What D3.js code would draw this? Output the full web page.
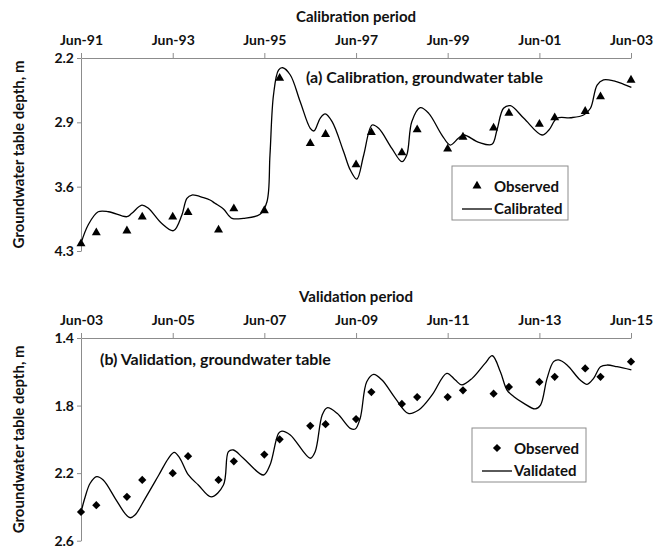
<!DOCTYPE html>
<html>
<head>
<meta charset="utf-8">
<script src="https://cdn.jsdelivr.net/npm/d3@7"></script>
<style>
  body { margin: 0; background: #fff; }
  text { font-family: Lato, "Open Sans", sans-serif; font-weight: bold; fill: #111; }
  .axis path, .axis line { stroke: #8c8c8c; }
</style>
</head>
<body>
<div id="chart"></div>
<script>
// ---- calibration panel data (depth, m) ----
var calibXTicks = ["Jun-91", "Jun-93", "Jun-95", "Jun-97", "Jun-99", "Jun-01", "Jun-03"]
var calibYTicks = [2.2, 2.9, 3.6, 4.3]
var calibObsDates = ["Jun-91", "Oct-91", "Jun-92", "Oct-92", "Jun-93", "Oct-93", "Jun-94", "Oct-94",
    "Jun-95", "Oct-95", "Jun-96", "Oct-96", "Jun-97", "Oct-97", "Jun-98", "Oct-98", "Jun-99", "Oct-99",
    "Jun-00", "Oct-00", "Jun-01", "Oct-01", "Jun-02", "Oct-02", "Jun-03"]
var calibObs = [4.22, 4.10, 4.08, 3.93, 3.93, 3.88, 4.07, 3.84, 3.86, 2.42, 3.13, 3.03, 3.36,
    3.01, 3.23, 2.98, 3.19, 3.06, 2.96, 2.80, 2.92, 2.85, 2.78, 2.62, 2.44]
// simulated line: months after Jun-91 and depth
var calibSimMonths = [0, 1.9, 4.5, 7.2, 12.0, 13.3, 15.9, 17.6, 21.1, 24.2, 26.4, 27.7, 29.0, 32.0, 33.8,
    35.1, 37.3, 39.5, 42.5, 46.9, 48.7, 49.5, 50.4, 51.7, 52.8, 54.8, 57.4, 60.0, 61.0, 62.6,
    63.9, 65.7, 68.7, 70.5, 72.2, 74.0, 76.2, 77.9, 81.4, 84.0, 85.3, 86.6, 88.8, 91.0, 94.5,
    96.7, 98.8, 100.2, 104.1, 107.6, 108.9, 110.6, 112.4, 115.9, 120.7, 122.5, 124.6, 128.1, 131.6, 133.4,
    135.1, 136.8, 139.5, 142.1, 144.1]
var calibSim = [4.216, 4.017, 3.873, 3.873, 3.927, 3.890, 3.800, 3.835, 3.999, 4.079, 3.908, 3.727, 3.691, 3.720, 3.745,
    3.781, 3.843, 3.944, 3.944, 3.901, 3.764, 3.255, 2.603, 2.331, 2.306, 2.385, 2.676, 2.965, 2.994, 2.856,
    2.809, 2.893, 3.220, 3.419, 3.517, 3.255, 2.929, 2.965, 3.183, 3.328, 3.255, 2.893, 2.741, 2.802, 3.038,
    3.147, 3.074, 3.038, 3.117, 3.139, 2.983, 2.747, 2.719, 2.856, 3.038, 2.983, 2.856, 2.850, 2.820, 2.747,
    2.494, 2.439, 2.450, 2.486, 2.519]

// ---- validation panel data ----
var validXTicks = ["Jun-03", "Jun-05", "Jun-07", "Jun-09", "Jun-11", "Jun-13", "Jun-15"]
var validYTicks = [1.4, 1.8, 2.2, 2.6]
var validObsDates = ["Jun-03", "Oct-03", "Jun-04", "Oct-04", "Jun-05", "Oct-05", "Jun-06", "Oct-06",
    "Jun-07", "Oct-07", "Jun-08", "Oct-08", "Jun-09", "Oct-09", "Jun-10", "Oct-10", "Jun-11", "Oct-11",
    "Jun-12", "Oct-12", "Jun-13", "Oct-13", "Jun-14", "Oct-14", "Jun-15"]
var validObs = [2.43, 2.39, 2.34, 2.24, 2.20, 2.10, 2.24, 2.13, 2.09, 2.00, 1.92, 1.91, 1.88,
    1.72, 1.79, 1.75, 1.75, 1.71, 1.73, 1.69, 1.66, 1.63, 1.58, 1.63, 1.54]
// simulated line: months after Jun-03 and depth
var validSimMonths = [0, 1.0, 2.4, 4.1, 5.8, 8.9, 11.5, 12.8, 14.1, 16.8, 20.3, 22.9, 24.4, 25.9, 28.1,
    30.7, 34.1, 37.3, 38.6, 39.9, 42.5, 47.8, 49.5, 51.7, 52.6, 54.8, 60.0, 61.3, 63.1, 64.4,
    67.0, 70.5, 71.8, 73.1, 74.8, 76.6, 78.8, 82.3, 85.7, 88.4, 91.9, 95.8, 98.0, 99.7, 102.4,
    105.8, 107.7, 109.8, 111.5, 113.3, 115.9, 118.9, 120.3, 122.0, 123.7, 125.0, 127.2, 130.7, 132.5, 134.2,
    136.0, 137.7, 140.3, 144.1]
var validSim = [2.432, 2.349, 2.260, 2.221, 2.241, 2.349, 2.438, 2.464, 2.448, 2.349, 2.211, 2.112, 2.077, 2.112, 2.211,
    2.270, 2.341, 2.270, 2.073, 2.063, 2.112, 2.211, 2.152, 1.964, 1.951, 1.974, 2.112, 2.073, 1.856, 1.813,
    1.846, 1.935, 1.939, 1.875, 1.659, 1.615, 1.649, 1.757, 1.846, 1.826, 1.737, 1.609, 1.649, 1.678, 1.639,
    1.550, 1.505, 1.600, 1.708, 1.748, 1.787, 1.820, 1.797, 1.639, 1.540, 1.530, 1.560, 1.649, 1.674, 1.639,
    1.570, 1.560, 1.570, 1.589]

var W = 654, H = 547
var parseMon = d3.timeParse("%b-%y")

var svg = d3.select("#chart")
    .append("svg")
        .attr("width", W)
        .attr("height", H)

function monthsAfter(base, m) {
    return new Date(base.getFullYear(), base.getMonth() + Math.floor(m), 1 + Math.round((m % 1) * 30))
}

function drawPanel(p) {
    var g = svg.append("g")
        .attr("transform", "translate(81," + p.top + ")")
    var width = 550, height = p.height

    var x = d3.scaleTime()
        .domain([parseMon(p.xTicks[0]), parseMon(p.xTicks[p.xTicks.length - 1])])
        .range([0, width])
    var y = d3.scaleLinear()
        .domain([p.yTicks[0], p.yTicks[p.yTicks.length - 1]])
        .range([0, height])

    // axes
    g.append("g")
        .attr("class", "axis")
        .call(d3.axisTop(x)
            .tickValues(p.xTicks.map(parseMon))
            .tickFormat(d3.timeFormat("%b-%y"))
            .tickSize(5).tickSizeOuter(0))
        .call(a => a.selectAll("text").attr("y", -13).style("font-size", "14px").attr("fill", "#111"))
    g.append("g")
        .attr("class", "axis")
        .call(d3.axisLeft(y)
            .tickValues(p.yTicks)
            .tickFormat(d3.format(".1f"))
            .tickSize(4).tickSizeOuter(0))
        .call(a => a.selectAll("text").attr("x", -7).style("font-size", "14px").attr("fill", "#111"))

    // titles
    g.append("text")
        .attr("x", width / 2)
        .attr("y", -36)
        .attr("text-anchor", "middle")
        .style("font-size", "15px")
        .text(p.title)
    g.append("text")
        .attr("transform", "translate(-57," + (height / 2) + ") rotate(-90)")
        .attr("text-anchor", "middle")
        .style("font-size", "15px")
        .text("Groundwater table depth, m")
    g.append("text")
        .attr("x", p.noteX)
        .attr("y", p.noteY)
        .style("font-size", "16px")
        .text(p.note)

    // simulated line
    var base = parseMon(p.xTicks[0])
    var sim = p.simMonths.map((m, i) => ({ date: monthsAfter(base, m), value: p.sim[i] }))
    var line = d3.line()
        .x(d => x(d.date))
        .y(d => y(d.value))
        .curve(d3.curveCatmullRom.alpha(0.5))
    g.append("path")
        .datum(sim)
        .attr("fill", "none")
        .attr("stroke", "#000")
        .attr("stroke-width", 1.3)
        .attr("d", line)

    // observed markers
    var sym = d3.symbol().type(p.symbol).size(p.symSize)
    g.selectAll(".obs")
        .data(p.obsDates.map((d, i) => ({ date: parseMon(d), value: p.obs[i] })))
        .join("path")
            .attr("class", "obs")
            .attr("d", sym)
            .attr("fill", "#000")
            .attr("transform", d => "translate(" + x(d.date) + "," + y(d.value) + ")" + (p.rotate ? " rotate(45)" : ""))

    // legend
    var lg = g.append("g").attr("transform", "translate(" + p.legX + "," + p.legY + ")")
    lg.append("rect")
        .attr("width", p.legW).attr("height", 54)
        .attr("fill", "#fff").attr("stroke", "#8c8c8c")
    lg.append("path")
        .attr("d", sym)
        .attr("transform", "translate(25,20)" + (p.rotate ? " rotate(45)" : ""))
    lg.append("text").attr("x", 42).attr("y", 26).style("font-size", "15px").text("Observed")
    lg.append("line")
        .attr("x1", 10).attr("x2", 40).attr("y1", 43).attr("y2", 43)
        .attr("stroke", "#000").attr("stroke-width", 1.3)
    lg.append("text").attr("x", 42).attr("y", 48).style("font-size", "15px").text(p.simName)
}

drawPanel({
    top: 58, height: 193,
    xTicks: calibXTicks, yTicks: calibYTicks,
    obsDates: calibObsDates, obs: calibObs,
    simMonths: calibSimMonths, sim: calibSim,
    title: "Calibration period",
    note: "(a) Calibration, groundwater table", noteX: 225, noteY: 25,
    symbol: d3.symbolTriangle, symSize: 35, rotate: false,
    legX: 371, legY: 108, legW: 116, simName: "Calibrated"
})

drawPanel({
    top: 338, height: 202.7,
    xTicks: validXTicks, yTicks: validYTicks,
    obsDates: validObsDates, obs: validObs,
    simMonths: validSimMonths, sim: validSim,
    title: "Validation period",
    note: "(b) Validation, groundwater table", noteX: 19, noteY: 27,
    symbol: d3.symbolSquare, symSize: 34, rotate: true,
    legX: 391, legY: 90, legW: 114, simName: "Validated"
})
</script>
</body>
</html>
